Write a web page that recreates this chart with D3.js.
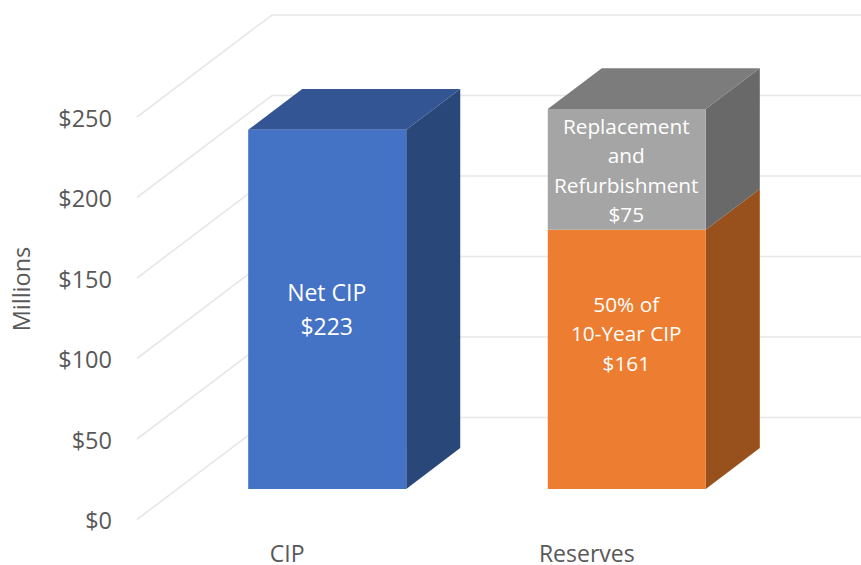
<!DOCTYPE html>
<html>
<head>
<meta charset="utf-8">
<style>
html,body{margin:0;padding:0;background:#fff}
svg{display:block}
text{font-family:"Open Sans",sans-serif}
</style>
<script src="https://cdn.jsdelivr.net/npm/d3@7"></script>
</head>
<body>
<script>
const categories = ["CIP", "Reserves"];
const yTicks = [0, 50, 100, 150, 200, 250];
const seriesNames = ["Net CIP", "50% of 10-Year CIP", "Replacement and Refurbishment"];
const netCip = [223, 0];
const tenYearCip = [0, 161];
const replacement = [0, 75];
const labelNetCip = ["Net CIP", "$223"];
const labelTenYear = ["50% of", "10-Year CIP", "$161"];
const labelReplacement = ["Replacement", "and", "Refurbishment", "$75"];

const W = 861, H = 565;
const svg = d3.select("body").append("svg").attr("width", W).attr("height", H);

// Floor front edge, and the oblique offset of the back wall
const depthX = 135, depthY = -102;
const barFront = 0.3, barBack = 0.7;
const x = d3.scaleBand().domain(categories).range([137, 736]).paddingInner(0.4725).paddingOuter(0.236);
const y = d3.scaleLinear().domain([0, 250]).range([519.5, 117]);
const pt = (px, v, d) => [px + d * depthX, y(v) + d * depthY];
const line = d3.line();

// Gridlines: side wall then back wall
const grid = svg.append("g").attr("fill", "none").attr("stroke", "#e7e7e7").attr("stroke-width", 1.6);
grid.selectAll("path").data(yTicks).join("path")
  .attr("d", v => line([pt(137, v, 0), pt(137, v, 1), pt(W + 10, v, 1)]));

// Axis labels
const tickG = svg.append("g").attr("fill", "#595959").attr("font-size", 23.5).attr("text-anchor", "end");
tickG.selectAll("text").data(yTicks).join("text")
  .attr("x", 112).attr("y", v => y(v) + 1.5).attr("dy", "0.36em")
  .text(v => d3.format("$")(v).replace(".00", ""));

svg.append("g").attr("fill", "#595959").attr("font-size", 23).attr("text-anchor", "middle")
  .selectAll("text").data(categories).join("text")
  .attr("x", c => x(c) + x.bandwidth() / 2 + 0.5).attr("y", 562).text(d => d);

svg.append("text").attr("transform", "translate(29.5,289) rotate(-90)")
  .attr("fill", "#595959").attr("font-size", 23.5).attr("text-anchor", "middle").text("Millions");

// Stacked 3D bars
const stacked = d3.stack().keys([0, 1, 2]).value((row, k) => row[k])(
  categories.map((c, i) => [netCip[i], tenYearCip[i], replacement[i]]));
const palette = [
  {front: "#4472c4", top: "#335593", side: "#2a4779", edge: "#6f93d3"},
  {front: "#ed7d31", top: "#b45f25", side: "#98501c", edge: "#f29a5e"},
  {front: "#a5a5a5", top: "#7c7c7c", side: "#696969", edge: "#b0b0b0"}
];
const barsG = svg.append("g");
stacked.forEach((layer, k) => {
  layer.forEach((seg, i) => {
    if (seg[1] === seg[0]) return;
    const c = palette[k];
    const xl = x(categories[i]), xr = xl + x.bandwidth();
    const f = barFront, b = barBack;
    const side = [pt(xr, seg[0], f), pt(xr, seg[1], f), pt(xr, seg[1], b), pt(xr, seg[0], b)];
    const top = [pt(xl, seg[1], f), pt(xr, seg[1], f), pt(xr, seg[1], b), pt(xl, seg[1], b)];
    const front = [pt(xl, seg[0], f), pt(xl, seg[1], f), pt(xr, seg[1], f), pt(xr, seg[0], f)];
    barsG.append("path").attr("d", line(side) + "Z").attr("fill", c.side);
    if (seg[1] === d3.max(stacked, l => l[i][1])) {
      barsG.append("path").attr("d", line(top) + "Z").attr("fill", c.top);
    }
    barsG.append("path").attr("d", line(front) + "Z").attr("fill", c.front);
  });
});

// Data labels
const labelSets = [
  {lines: labelNetCip, cat: 0, layer: 0, shift: 0.5, size: 23, step: 34},
  {lines: labelTenYear, cat: 1, layer: 1, shift: -25.5, size: 20.8, step: 29.4},
  {lines: labelReplacement, cat: 1, layer: 2, shift: 1, size: 20.8, step: 29.4}
];
labelSets.forEach(s => {
  const seg = stacked[s.layer][s.cat];
  const cx = x(categories[s.cat]) + x.bandwidth() / 2 + barFront * depthX;
  const cy = (y(seg[0]) + y(seg[1])) / 2 + barFront * depthY + s.shift;
  svg.append("g").attr("fill", "#fff").attr("font-size", s.size).attr("text-anchor", "middle")
    .selectAll("text").data(s.lines).join("text")
    .attr("x", cx - 0.5)
    .attr("y", (d, i) => cy + (i - (s.lines.length - 1) / 2) * s.step)
    .attr("dy", "0.36em")
    .text(d => d);
});
</script>
</body>
</html>
